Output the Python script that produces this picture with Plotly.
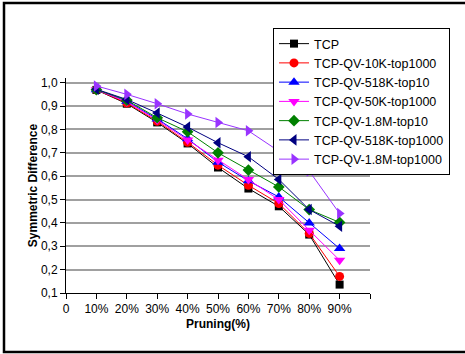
import plotly.graph_objects as go

# ---- data ----
x_positions = [1, 2, 3, 4, 5, 6, 7, 8, 9]
x_tick_vals = [0, 1, 2, 3, 4, 5, 6, 7, 8, 9, 10]
x_tick_text = ["0", "10%", "20%", "30%", "40%", "50%", "60%", "70%", "80%", "90%", ""]
y_tick_vals = [0.1, 0.2, 0.3, 0.4, 0.5, 0.6, 0.7, 0.8, 0.9, 1.0]
y_tick_text = ["0,1", "0,2", "0,3", "0,4", "0,5", "0,6", "0,7", "0,8", "0,9", "1,0"]

series_names = ["TCP", "TCP-QV-10K-top1000", "TCP-QV-518K-top10", "TCP-QV-50K-top1000",
                "TCP-QV-1.8M-top10", "TCP-QV-518K-top1000", "TCP-QV-1.8M-top1000"]
tcp =            [0.969, 0.910, 0.830, 0.740, 0.637, 0.547, 0.471, 0.350, 0.136]
qv_10k_top1000 = [0.969, 0.913, 0.835, 0.745, 0.647, 0.561, 0.483, 0.355, 0.171]
qv_518k_top10 =  [0.970, 0.920, 0.845, 0.760, 0.660, 0.580, 0.511, 0.400, 0.290]
qv_50k_top1000 = [0.970, 0.918, 0.840, 0.755, 0.668, 0.586, 0.500, 0.369, 0.240]
qv_18m_top10 =   [0.970, 0.925, 0.850, 0.790, 0.700, 0.626, 0.554, 0.457, 0.402]
qv_518k_top1000 =[0.972, 0.928, 0.870, 0.810, 0.743, 0.683, 0.586, 0.457, 0.386]
qv_18m_top1000 = [0.986, 0.950, 0.910, 0.866, 0.830, 0.794, 0.707, 0.622, 0.440]

series_values = [tcp, qv_10k_top1000, qv_518k_top10, qv_50k_top1000,
                 qv_18m_top10, qv_518k_top1000, qv_18m_top1000]
colors = ["#000000", "#FF0000", "#0000FF", "#FF00FF", "#008000", "#000080", "#9933FF"]
symbols = ["square", "circle", "triangle-up", "triangle-down", "diamond", "triangle-left", "triangle-right"]
sizes = [8, 9, 10, 10, 9, 10, 10]

fig = go.Figure()
for name, vals, c, s, sz in zip(series_names, series_values, colors, symbols, sizes):
    fig.add_trace(go.Scatter(
        x=x_positions, y=vals, name=name, mode="lines+markers",
        line=dict(color=c, width=1),
        marker=dict(symbol=s, color=c, size=sz, line=dict(width=0)),
    ))

L, R, T, B = 66, 95, 78, 61
W, H = 465, 354
pw, ph = W - L - R, H - T - B

def px_x(p):
    return (p - L) / pw

def px_y(p):
    return (H - B - p) / ph

font = "Liberation Sans, Arial, sans-serif"
fig.update_layout(
    width=W, height=H,
    margin=dict(l=L, r=R, t=T, b=B, pad=0),
    paper_bgcolor="white", plot_bgcolor="white",
    font=dict(family=font, size=12, color="black"),
    showlegend=True,
    legend=dict(
        x=px_x(273), y=px_y(28), xanchor="left", yanchor="top",
        bgcolor="white", bordercolor="black", borderwidth=1,
        font=dict(family=font, size=12.5, color="black"),
        itemwidth=30, tracegroupgap=0,
    ),
    xaxis=dict(
        range=[0, 10], tickmode="array", tickvals=x_tick_vals, ticktext=x_tick_text,
        showgrid=False, zeroline=False, showline=True, linecolor="black", linewidth=1,
        ticks="outside", ticklen=5, tickcolor="black",
        title=dict(text="<b>Pruning(%)</b>", font=dict(size=12), standoff=4),
        automargin=False,
    ),
    yaxis=dict(
        range=[0.1, 1.02], tickmode="array", tickvals=y_tick_vals, ticktext=y_tick_text,
        showgrid=True, gridcolor="#a0a0a0", gridwidth=1.5,
        zeroline=False, showline=True, linecolor="black", linewidth=1,
        ticks="outside", ticklen=5, tickcolor="black",
        title=dict(text="<b>Symmetric Difference</b>", font=dict(size=12), standoff=0),
        automargin=False,
    ),
    shapes=[dict(
        type="rect", xref="paper", yref="paper",
        x0=px_x(4), x1=px_x(480), y0=px_y(352), y1=px_y(3),
        line=dict(color="black", width=2.5), fillcolor="rgba(0,0,0,0)", layer="above",
    )],
)

fig.write_html("out.html", config={"displayModeBar": False},
               post_script="document.body.style.margin='0';document.body.style.overflow='hidden';")
